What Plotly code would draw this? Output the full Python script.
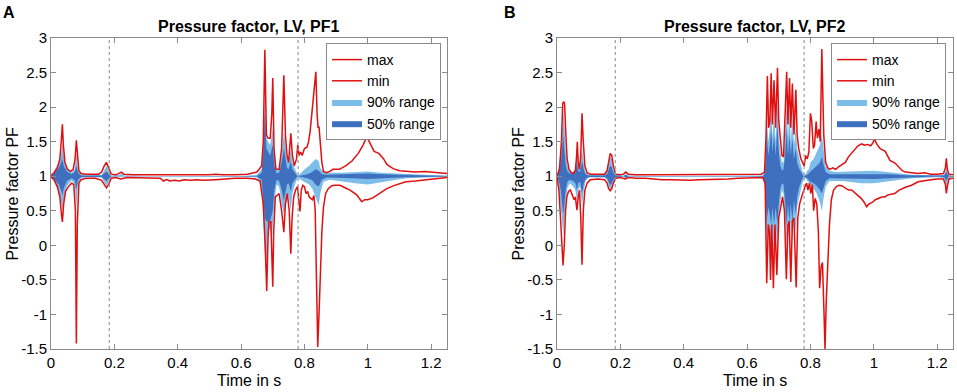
import plotly.graph_objects as go

# ---------------- data: [time in s, pressure factor] ----------------
A_MAX = [[0.000,1.01],[0.010,1.05],[0.020,1.12],[0.028,1.25],[0.033,1.55],[0.036,1.75],[0.039,1.45],[0.044,1.2],[0.052,1.1],[0.062,1.07],[0.070,1.1],[0.076,1.25],[0.080,1.52],[0.083,1.3],[0.088,1.08],[0.095,1.04],[0.110,1.03],[0.130,1.03],[0.150,1.03],[0.160,1.06],[0.168,1.15],[0.175,1.20],[0.182,1.13],[0.190,1.03],[0.205,1.02],[0.215,1.04],[0.222,1.06],[0.230,1.03],[0.260,1.02],[0.300,1.02],[0.340,1.02],[0.380,1.01],[0.420,1.01],[0.460,1.02],[0.500,1.02],[0.520,1.03],[0.540,1.02],[0.580,1.02],[0.620,1.03],[0.650,1.06],[0.665,1.15],[0.670,1.5],[0.675,2.83],[0.680,1.6],[0.685,1.55],[0.692,1.55],[0.697,1.9],[0.700,2.42],[0.704,1.4],[0.710,1.1],[0.720,1.1],[0.728,1.4],[0.735,2.46],[0.740,1.6],[0.745,1.3],[0.750,1.2],[0.754,1.4],[0.757,1.62],[0.762,1.3],[0.768,1.15],[0.775,1.25],[0.779,1.45],[0.783,1.3],[0.788,1.35],[0.793,1.3],[0.800,1.4],[0.808,1.42],[0.813,1.5],[0.818,1.65],[0.823,1.9],[0.827,2.05],[0.832,2.3],[0.836,2.51],[0.840,1.9],[0.843,1.7],[0.846,1.72],[0.850,1.5],[0.855,1.2],[0.860,1.07],[0.870,1.05],[0.880,1.07],[0.890,1.1],[0.910,1.1],[0.930,1.15],[0.950,1.22],[0.970,1.33],[0.985,1.45],[0.997,1.57],[1.010,1.45],[1.020,1.36],[1.035,1.33],[1.050,1.25],[1.060,1.17],[1.080,1.11],[1.100,1.08],[1.120,1.07],[1.150,1.06],[1.180,1.07],[1.200,1.06],[1.220,1.05],[1.250,1.04]]
A_MIN = [[0.000,0.99],[0.010,0.95],[0.020,0.85],[0.028,0.7],[0.033,0.45],[0.036,0.34],[0.040,0.6],[0.046,0.78],[0.055,0.85],[0.065,0.9],[0.072,0.88],[0.077,0.5],[0.080,-1.42],[0.083,0.3],[0.088,0.9],[0.095,0.95],[0.110,0.97],[0.140,0.97],[0.160,0.94],[0.168,0.87],[0.175,0.83],[0.182,0.88],[0.190,0.97],[0.205,0.98],[0.220,0.96],[0.240,0.98],[0.280,0.98],[0.320,0.98],[0.345,0.97],[0.355,0.93],[0.365,0.95],[0.375,0.93],[0.390,0.94],[0.405,0.93],[0.420,0.95],[0.440,0.94],[0.460,0.95],[0.480,0.94],[0.500,0.95],[0.520,0.95],[0.550,0.96],[0.580,0.97],[0.620,0.97],[0.645,0.96],[0.660,0.93],[0.670,0.6],[0.676,0.0],[0.681,-0.66],[0.685,0.1],[0.688,0.34],[0.694,0.34],[0.697,-0.1],[0.700,-0.6],[0.703,0.2],[0.708,0.7],[0.720,0.75],[0.728,0.5],[0.735,0.19],[0.740,0.6],[0.746,0.75],[0.752,0.5],[0.757,-0.12],[0.761,0.4],[0.766,0.7],[0.772,0.8],[0.778,0.85],[0.782,0.7],[0.786,0.49],[0.790,0.8],[0.795,0.87],[0.800,0.85],[0.805,0.75],[0.810,0.78],[0.815,0.7],[0.820,0.68],[0.825,0.66],[0.830,0.72],[0.834,0.5],[0.838,-0.5],[0.842,-1.47],[0.846,-1.0],[0.850,-0.3],[0.855,0.2],[0.860,0.55],[0.867,0.75],[0.875,0.82],[0.885,0.86],[0.895,0.87],[0.912,0.87],[0.930,0.83],[0.944,0.8],[0.965,0.73],[0.981,0.63],[0.990,0.66],[1.000,0.66],[1.017,0.69],[1.040,0.76],[1.060,0.82],[1.080,0.86],[1.100,0.89],[1.120,0.92],[1.150,0.93],[1.200,0.95],[1.250,0.98]]
A_P95 = [[0,1.0],[0.01,1.08],[0.025,1.2],[0.033,1.35],[0.036,1.5],[0.04,1.3],[0.05,1.12],[0.065,1.06],[0.075,1.1],[0.08,1.35],[0.085,1.1],[0.095,1.03],[0.11,1.01],[0.16,1.02],[0.17,1.1],[0.176,1.15],[0.183,1.07],[0.19,1.01],[0.215,1.02],[0.222,1.04],[0.23,1.01],[0.3,1.005],[0.6,1.005],[0.65,1.02],[0.665,1.1],[0.67,1.5],[0.675,2.15],[0.68,1.55],[0.685,1.5],[0.692,1.45],[0.697,1.6],[0.70,1.7],[0.705,1.3],[0.712,1.08],[0.72,1.1],[0.728,1.3],[0.735,1.65],[0.74,1.4],[0.745,1.25],[0.75,1.2],[0.757,1.4],[0.762,1.2],[0.77,1.1],[0.778,1.02],[0.785,1.03],[0.795,1.08],[0.805,1.12],[0.815,1.15],[0.825,1.2],[0.835,1.25],[0.845,1.22],[0.85,1.12],[0.86,1.06],[0.88,1.05],[0.92,1.05],[0.96,1.06],[1.0,1.07],[1.04,1.05],[1.08,1.04],[1.12,1.03],[1.18,1.02],[1.25,1.01]]
A_P75 = [[0,1.0],[0.01,1.04],[0.025,1.12],[0.033,1.2],[0.036,1.25],[0.04,1.15],[0.05,1.07],[0.065,1.03],[0.075,1.06],[0.08,1.15],[0.085,1.05],[0.095,1.01],[0.16,1.01],[0.17,1.05],[0.176,1.07],[0.183,1.03],[0.19,1.0],[0.65,1.005],[0.665,1.05],[0.67,1.3],[0.675,1.9],[0.68,1.4],[0.685,1.35],[0.692,1.3],[0.697,1.4],[0.70,1.45],[0.705,1.15],[0.712,1.04],[0.72,1.05],[0.728,1.2],[0.735,1.4],[0.74,1.25],[0.745,1.12],[0.75,1.1],[0.757,1.22],[0.762,1.1],[0.77,1.05],[0.778,1.0],[0.79,1.01],[0.81,1.03],[0.825,1.06],[0.835,1.1],[0.845,1.08],[0.855,1.03],[0.87,1.02],[0.95,1.03],[1.0,1.04],[1.05,1.03],[1.1,1.02],[1.25,1.005]]
A_P25 = [[0,1.0],[0.01,0.96],[0.025,0.88],[0.033,0.78],[0.036,0.72],[0.04,0.82],[0.05,0.93],[0.065,0.97],[0.075,0.94],[0.08,0.8],[0.085,0.95],[0.095,0.99],[0.16,0.99],[0.17,0.95],[0.176,0.93],[0.183,0.97],[0.19,1.0],[0.65,0.995],[0.665,0.95],[0.67,0.7],[0.675,0.4],[0.68,0.35],[0.685,0.35],[0.692,0.36],[0.697,0.45],[0.70,0.5],[0.705,0.8],[0.712,0.95],[0.72,0.93],[0.728,0.8],[0.735,0.65],[0.74,0.75],[0.745,0.88],[0.75,0.9],[0.757,0.78],[0.762,0.9],[0.77,0.95],[0.778,1.0],[0.79,0.99],[0.81,0.97],[0.825,0.94],[0.835,0.88],[0.845,0.85],[0.855,0.95],[0.87,0.98],[0.95,0.97],[1.0,0.96],[1.05,0.97],[1.1,0.98],[1.25,0.995]]
A_P5 = [[0,1.0],[0.01,0.92],[0.025,0.78],[0.033,0.6],[0.036,0.5],[0.04,0.65],[0.05,0.85],[0.065,0.94],[0.075,0.88],[0.08,0.55],[0.085,0.88],[0.095,0.97],[0.11,0.99],[0.16,0.98],[0.17,0.9],[0.176,0.86],[0.183,0.93],[0.19,0.99],[0.3,0.995],[0.6,0.995],[0.65,0.98],[0.665,0.85],[0.67,0.4],[0.675,-0.1],[0.68,-0.25],[0.685,0.2],[0.692,0.25],[0.697,0.1],[0.70,0.2],[0.705,0.6],[0.712,0.88],[0.72,0.85],[0.728,0.6],[0.735,0.45],[0.74,0.55],[0.745,0.75],[0.75,0.72],[0.757,0.5],[0.762,0.75],[0.77,0.88],[0.778,0.97],[0.785,0.96],[0.795,0.93],[0.805,0.9],[0.815,0.88],[0.825,0.82],[0.835,0.7],[0.845,0.58],[0.85,0.75],[0.86,0.92],[0.88,0.95],[0.92,0.93],[0.96,0.9],[1.0,0.88],[1.04,0.91],[1.08,0.94],[1.12,0.97],[1.18,0.98],[1.25,0.99]]

B_MAX = [[0,1.01],[0.008,1.1],[0.014,1.5],[0.018,2.05],[0.021,2.08],[0.024,2.05],[0.028,1.6],[0.032,1.25],[0.038,1.1],[0.045,1.05],[0.052,1.04],[0.058,1.08],[0.062,1.3],[0.064,1.5],[0.067,1.2],[0.071,1.1],[0.075,1.3],[0.079,1.91],[0.083,1.5],[0.088,1.15],[0.095,1.05],[0.105,1.03],[0.13,1.03],[0.15,1.03],[0.158,1.08],[0.163,1.2],[0.168,1.33],[0.173,1.3],[0.178,1.15],[0.185,1.03],[0.2,1.02],[0.21,1.03],[0.217,1.06],[0.225,1.03],[0.25,1.02],[0.3,1.02],[0.35,1.02],[0.4,1.02],[0.45,1.02],[0.5,1.02],[0.54,1.03],[0.58,1.02],[0.62,1.02],[0.645,1.03],[0.655,1.06],[0.66,1.6],[0.664,2.45],[0.668,1.7],[0.672,1.8],[0.676,2.49],[0.68,1.75],[0.685,2.39],[0.69,1.7],[0.696,2.57],[0.70,1.8],[0.705,1.5],[0.71,1.3],[0.715,1.28],[0.72,1.8],[0.725,2.51],[0.729,1.75],[0.734,2.42],[0.738,1.7],[0.743,2.34],[0.748,1.6],[0.754,2.25],[0.758,1.6],[0.763,1.4],[0.77,1.25],[0.776,1.2],[0.78,1.15],[0.785,1.3],[0.79,1.25],[0.795,1.35],[0.8,1.91],[0.804,1.8],[0.809,1.4],[0.813,1.45],[0.818,1.79],[0.822,1.55],[0.827,1.68],[0.831,1.5],[0.836,2.84],[0.842,1.6],[0.848,1.2],[0.855,1.12],[0.862,1.1],[0.87,1.12],[0.88,1.1],[0.89,1.14],[0.9,1.17],[0.91,1.2],[0.92,1.28],[0.93,1.33],[0.94,1.38],[0.95,1.44],[0.962,1.47],[0.97,1.45],[0.98,1.46],[0.99,1.44],[0.997,1.48],[1.002,1.54],[1.01,1.46],[1.02,1.4],[1.036,1.36],[1.051,1.23],[1.067,1.19],[1.08,1.12],[1.09,1.08],[1.1,1.06],[1.12,1.05],[1.14,1.04],[1.16,1.05],[1.18,1.03],[1.2,1.03],[1.22,1.04],[1.226,1.12],[1.229,1.26],[1.232,1.1],[1.237,1.03],[1.25,1.02]]
B_MIN = [[0,0.99],[0.006,0.8],[0.011,0.4],[0.015,0.0],[0.019,-0.29],[0.023,0.0],[0.027,0.5],[0.031,0.7],[0.036,0.78],[0.042,0.8],[0.048,0.74],[0.054,0.66],[0.058,0.7],[0.063,0.51],[0.067,0.7],[0.071,0.8],[0.075,0.4],[0.079,-0.28],[0.083,0.5],[0.088,0.8],[0.095,0.9],[0.105,0.95],[0.13,0.96],[0.15,0.95],[0.158,0.9],[0.163,0.82],[0.168,0.79],[0.173,0.82],[0.178,0.9],[0.185,0.97],[0.2,0.98],[0.215,0.96],[0.225,0.98],[0.25,0.97],[0.28,0.97],[0.3,0.96],[0.33,0.95],[0.36,0.95],[0.39,0.94],[0.42,0.94],[0.45,0.95],[0.48,0.95],[0.51,0.96],[0.54,0.96],[0.57,0.97],[0.6,0.97],[0.63,0.98],[0.65,0.98],[0.657,0.9],[0.662,-0.55],[0.667,0.3],[0.671,0.2],[0.674,-0.5],[0.678,0.3],[0.683,-0.62],[0.688,0.3],[0.694,-0.43],[0.70,0.4],[0.706,0.55],[0.712,0.7],[0.718,0.5],[0.724,-0.49],[0.729,0.3],[0.733,0.35],[0.738,-0.53],[0.743,0.35],[0.748,0.4],[0.755,-0.61],[0.76,0.4],[0.766,0.6],[0.772,0.7],[0.778,0.8],[0.783,0.85],[0.788,0.9],[0.792,0.8],[0.797,0.9],[0.801,0.75],[0.806,0.88],[0.81,0.5],[0.815,0.68],[0.82,0.6],[0.825,0.2],[0.829,-0.62],[0.834,-0.3],[0.838,-0.25],[0.843,-1.0],[0.846,-1.5],[0.85,-0.8],[0.855,-0.2],[0.86,0.3],[0.866,0.66],[0.873,0.8],[0.882,0.85],[0.89,0.87],[0.9,0.86],[0.91,0.83],[0.92,0.8],[0.93,0.8],[0.94,0.76],[0.95,0.72],[0.96,0.68],[0.97,0.62],[0.977,0.56],[0.985,0.6],[0.995,0.62],[1.005,0.66],[1.014,0.68],[1.025,0.7],[1.035,0.7],[1.045,0.73],[1.066,0.75],[1.08,0.8],[1.1,0.84],[1.119,0.87],[1.14,0.92],[1.16,0.94],[1.18,0.95],[1.2,0.96],[1.22,0.96],[1.226,0.88],[1.229,0.75],[1.232,0.85],[1.237,0.96],[1.25,0.97]]
B_P95 = [[0,1.0],[0.006,1.15],[0.012,1.4],[0.016,1.7],[0.02,1.95],[0.024,1.7],[0.028,1.35],[0.033,1.15],[0.04,1.08],[0.05,1.06],[0.058,1.1],[0.063,1.35],[0.067,1.15],[0.073,1.12],[0.079,1.4],[0.084,1.2],[0.09,1.06],[0.1,1.02],[0.15,1.02],[0.158,1.06],[0.163,1.15],[0.168,1.28],[0.173,1.25],[0.178,1.1],[0.185,1.02],[0.21,1.01],[0.217,1.03],[0.225,1.01],[0.3,1.005],[0.6,1.005],[0.65,1.01],[0.657,1.1],[0.662,1.9],[0.667,1.5],[0.672,1.7],[0.676,2.0],[0.68,1.55],[0.685,1.9],[0.69,1.5],[0.696,2.1],[0.70,1.6],[0.705,1.35],[0.71,1.2],[0.715,1.2],[0.72,1.55],[0.725,2.05],[0.729,1.55],[0.734,1.95],[0.738,1.5],[0.743,1.85],[0.748,1.45],[0.754,1.7],[0.758,1.4],[0.765,1.25],[0.772,1.12],[0.778,1.03],[0.785,1.03],[0.79,1.08],[0.795,1.1],[0.8,1.2],[0.81,1.25],[0.82,1.35],[0.83,1.45],[0.836,1.6],[0.842,1.35],[0.848,1.15],[0.86,1.08],[0.88,1.06],[0.92,1.07],[0.96,1.08],[1.0,1.08],[1.04,1.06],[1.08,1.04],[1.12,1.02],[1.2,1.01],[1.222,1.02],[1.229,1.12],[1.235,1.02],[1.25,1.0]]
B_P75 = [[0,1.0],[0.006,1.08],[0.012,1.2],[0.016,1.4],[0.02,1.6],[0.024,1.35],[0.028,1.15],[0.033,1.07],[0.04,1.04],[0.05,1.03],[0.058,1.05],[0.063,1.2],[0.067,1.08],[0.073,1.06],[0.079,1.22],[0.084,1.1],[0.09,1.03],[0.1,1.01],[0.15,1.01],[0.158,1.03],[0.163,1.08],[0.168,1.15],[0.173,1.13],[0.178,1.05],[0.185,1.01],[0.21,1.0],[0.217,1.02],[0.225,1.0],[0.65,1.005],[0.657,1.05],[0.662,1.6],[0.667,1.3],[0.672,1.45],[0.676,1.7],[0.68,1.35],[0.685,1.6],[0.69,1.3],[0.696,1.75],[0.70,1.35],[0.705,1.15],[0.71,1.08],[0.715,1.1],[0.72,1.3],[0.725,1.7],[0.729,1.3],[0.734,1.6],[0.738,1.3],[0.743,1.55],[0.748,1.25],[0.754,1.4],[0.758,1.2],[0.765,1.1],[0.772,1.05],[0.778,1.0],[0.79,1.02],[0.8,1.06],[0.81,1.1],[0.82,1.15],[0.83,1.2],[0.836,1.28],[0.842,1.15],[0.848,1.06],[0.86,1.03],[0.9,1.03],[0.96,1.04],[1.0,1.04],[1.05,1.03],[1.1,1.015],[1.2,1.005],[1.222,1.01],[1.229,1.06],[1.235,1.01],[1.25,1.0]]
B_P25 = [[0,1.0],[0.006,0.93],[0.012,0.8],[0.016,0.6],[0.02,0.45],[0.024,0.6],[0.028,0.82],[0.033,0.92],[0.04,0.95],[0.05,0.93],[0.058,0.9],[0.063,0.8],[0.067,0.9],[0.073,0.92],[0.079,0.75],[0.084,0.88],[0.09,0.96],[0.1,0.99],[0.15,0.99],[0.158,0.97],[0.163,0.92],[0.168,0.87],[0.173,0.9],[0.178,0.95],[0.185,0.99],[0.21,1.0],[0.217,0.98],[0.225,1.0],[0.65,0.995],[0.657,0.9],[0.662,0.35],[0.667,0.55],[0.672,0.45],[0.676,0.3],[0.68,0.55],[0.685,0.3],[0.69,0.55],[0.696,0.3],[0.70,0.6],[0.705,0.82],[0.71,0.9],[0.715,0.88],[0.72,0.65],[0.725,0.3],[0.729,0.6],[0.734,0.35],[0.738,0.6],[0.743,0.35],[0.748,0.65],[0.754,0.45],[0.758,0.7],[0.765,0.85],[0.772,0.93],[0.778,1.0],[0.79,0.97],[0.8,0.92],[0.81,0.9],[0.82,0.86],[0.83,0.8],[0.836,0.75],[0.842,0.85],[0.848,0.93],[0.86,0.97],[0.9,0.97],[0.96,0.96],[1.0,0.96],[1.05,0.97],[1.1,0.985],[1.2,0.995],[1.222,0.99],[1.229,0.93],[1.235,0.99],[1.25,1.0]]
B_P5 = [[0,1.0],[0.006,0.85],[0.012,0.6],[0.016,0.35],[0.02,0.15],[0.024,0.35],[0.028,0.65],[0.033,0.83],[0.04,0.9],[0.05,0.86],[0.058,0.8],[0.063,0.65],[0.067,0.8],[0.073,0.85],[0.079,0.55],[0.084,0.78],[0.09,0.93],[0.1,0.98],[0.15,0.98],[0.158,0.94],[0.163,0.85],[0.168,0.8],[0.173,0.83],[0.178,0.92],[0.185,0.98],[0.21,0.99],[0.217,0.97],[0.225,0.99],[0.3,0.995],[0.6,0.995],[0.65,0.99],[0.657,0.8],[0.662,0.0],[0.667,0.3],[0.672,0.15],[0.676,-0.1],[0.68,0.3],[0.685,-0.1],[0.69,0.3],[0.696,0.0],[0.70,0.45],[0.705,0.65],[0.71,0.8],[0.715,0.75],[0.72,0.4],[0.725,0.0],[0.729,0.35],[0.734,0.0],[0.738,0.35],[0.743,0.05],[0.748,0.45],[0.754,0.2],[0.758,0.55],[0.765,0.72],[0.772,0.85],[0.778,0.96],[0.785,0.97],[0.79,0.93],[0.8,0.87],[0.81,0.82],[0.82,0.75],[0.83,0.62],[0.836,0.5],[0.842,0.7],[0.848,0.85],[0.86,0.93],[0.9,0.93],[0.96,0.9],[1.0,0.9],[1.04,0.92],[1.08,0.95],[1.12,0.97],[1.2,0.985],[1.222,0.97],[1.229,0.85],[1.235,0.97],[1.25,0.99]]

EVENT_TIMES = [0.184, 0.78]
TITLES = ["Pressure factor, LV, PF1", "Pressure factor, LV, PF2"]
PANEL_LETTERS = ["A", "B"]
X_TICKS = [0, 0.2, 0.4, 0.6, 0.8, 1, 1.2]
X_TICK_LABELS = ["0", "0.2", "0.4", "0.6", "0.8", "1", "1.2"]
Y_TICKS = [-1.5, -1, -0.5, 0, 0.5, 1, 1.5, 2, 2.5, 3]
Y_TICK_LABELS = ["-1.5", "-1", "-0.5", "0", "0.5", "1", "1.5", "2", "2.5", "3"]
X_LABEL = "Time in s"
Y_LABEL = "Pressure factor PF"
LEGEND_NAMES = ["max", "min", "90% range", "50% range"]

# ---------------- styling ----------------
W, H = 957, 392
RED = "#e01010"
LIGHT = "#7dbde9"
DARK = "#3f70bf"
AXC = "#8a8a8a"
FONT = "Liberation Sans, Arial, Helvetica, sans-serif"

def px_x(p):
    return p / W

def px_y(p):
    return 1 - p / H

panels = [
    dict(data=(A_MAX, A_MIN, A_P95, A_P75, A_P25, A_P5), xd=(51, 447), legend="legend", letter_x=9),
    dict(data=(B_MAX, B_MIN, B_P95, B_P75, B_P25, B_P5), xd=(557, 953), legend="legend2", letter_x=510),
]
PLOT_TOP, PLOT_BOT = 38, 349

fig = go.Figure()

def xs(s):
    return [p[0] for p in s]

def ys(s):
    return [p[1] for p in s]

annotations = []
shapes = []
for i, pn in enumerate(panels):
    mx, mn, p95, p75, p25, p5 = pn["data"]
    xa = "x" if i == 0 else "x2"
    ya = "y" if i == 0 else "y2"
    fig.add_trace(go.Scatter(
        x=xs(p95) + xs(p5)[::-1], y=ys(p95) + ys(p5)[::-1],
        fill="toself", fillcolor=LIGHT, mode="lines", line=dict(width=0, color=LIGHT),
        name=LEGEND_NAMES[2], legend=pn["legend"], legendrank=3, xaxis=xa, yaxis=ya,
        hoverinfo="skip"))
    fig.add_trace(go.Scatter(
        x=xs(p75) + xs(p25)[::-1], y=ys(p75) + ys(p25)[::-1],
        fill="toself", fillcolor=DARK, mode="lines", line=dict(width=0, color=DARK),
        name=LEGEND_NAMES[3], legend=pn["legend"], legendrank=4, xaxis=xa, yaxis=ya,
        hoverinfo="skip"))
    fig.add_trace(go.Scatter(x=xs(mx), y=ys(mx), mode="lines", line=dict(color=RED, width=1.5),
                             name=LEGEND_NAMES[0], legend=pn["legend"], legendrank=1, xaxis=xa, yaxis=ya))
    fig.add_trace(go.Scatter(x=xs(mn), y=ys(mn), mode="lines", line=dict(color=RED, width=1.5),
                             name=LEGEND_NAMES[1], legend=pn["legend"], legendrank=2, xaxis=xa, yaxis=ya))
    for t in EVENT_TIMES:
        shapes.append(dict(type="line", xref=xa, yref="paper", x0=t, x1=t,
                           y0=px_y(PLOT_BOT), y1=px_y(PLOT_TOP),
                           line=dict(color="#9a9a9a", width=1.2, dash="dot"), layer="above"))
    x0, x1 = pn["xd"]
    cx = (x0 + x1) / 2
    annotations += [
        dict(text="<b>" + TITLES[i] + "</b>", x=px_x(cx), y=px_y(27), xref="paper", yref="paper",
             showarrow=False, xanchor="center", yanchor="middle", font=dict(size=16, color="#000")),
        dict(text="<b>" + PANEL_LETTERS[i] + "</b>", x=px_x(pn["letter_x"]), y=px_y(12), xref="paper", yref="paper",
             showarrow=False, xanchor="center", yanchor="middle", font=dict(size=16, color="#000")),
        dict(text=X_LABEL, x=px_x(cx), y=px_y(380), xref="paper", yref="paper",
             showarrow=False, xanchor="center", yanchor="middle", font=dict(size=16, color="#000")),
        dict(text=Y_LABEL, x=px_x(x0 - 39), y=px_y((PLOT_TOP + PLOT_BOT) / 2), xref="paper", yref="paper",
             showarrow=False, xanchor="center", yanchor="middle", textangle=-90, font=dict(size=16, color="#000")),
    ]

axis_common = dict(showline=True, linecolor=AXC, linewidth=1, mirror="ticks", ticks="inside",
                   ticklen=5, tickcolor=AXC, showgrid=False, zeroline=False, automargin=False,
                   tickfont=dict(size=15, color="#000", family=FONT))
for i, pn in enumerate(panels):
    x0, x1 = pn["xd"]
    sfx = "" if i == 0 else "2"
    fig.update_layout(**{
        "xaxis" + sfx: dict(axis_common, domain=[px_x(x0), px_x(x1)], range=[0, 1.25],
                            tickvals=X_TICKS, ticktext=X_TICK_LABELS, anchor="y" + sfx),
        "yaxis" + sfx: dict(axis_common, domain=[px_y(PLOT_BOT), px_y(PLOT_TOP)], range=[-1.5, 3],
                            tickvals=Y_TICKS, ticktext=Y_TICK_LABELS, anchor="x" + sfx),
    })

leg_common = dict(bgcolor="white", bordercolor=AXC, borderwidth=1, font=dict(size=14, color="#000", family=FONT),
                  xanchor="right", yanchor="top", tracegroupgap=0, itemwidth=30)
fig.update_layout(
    width=W, height=H, margin=dict(l=0, r=0, t=0, b=0),
    paper_bgcolor="white", plot_bgcolor="white",
    font=dict(family=FONT, color="#000"),
    legend=dict(leg_common, x=px_x(441), y=px_y(43)),
    legend2=dict(leg_common, x=px_x(946), y=px_y(43)),
    annotations=annotations, shapes=shapes, showlegend=True,
)

fig.write_html("out.html", config={"displayModeBar": False},
               post_script="document.body.style.margin='0';document.body.style.padding='0';")
